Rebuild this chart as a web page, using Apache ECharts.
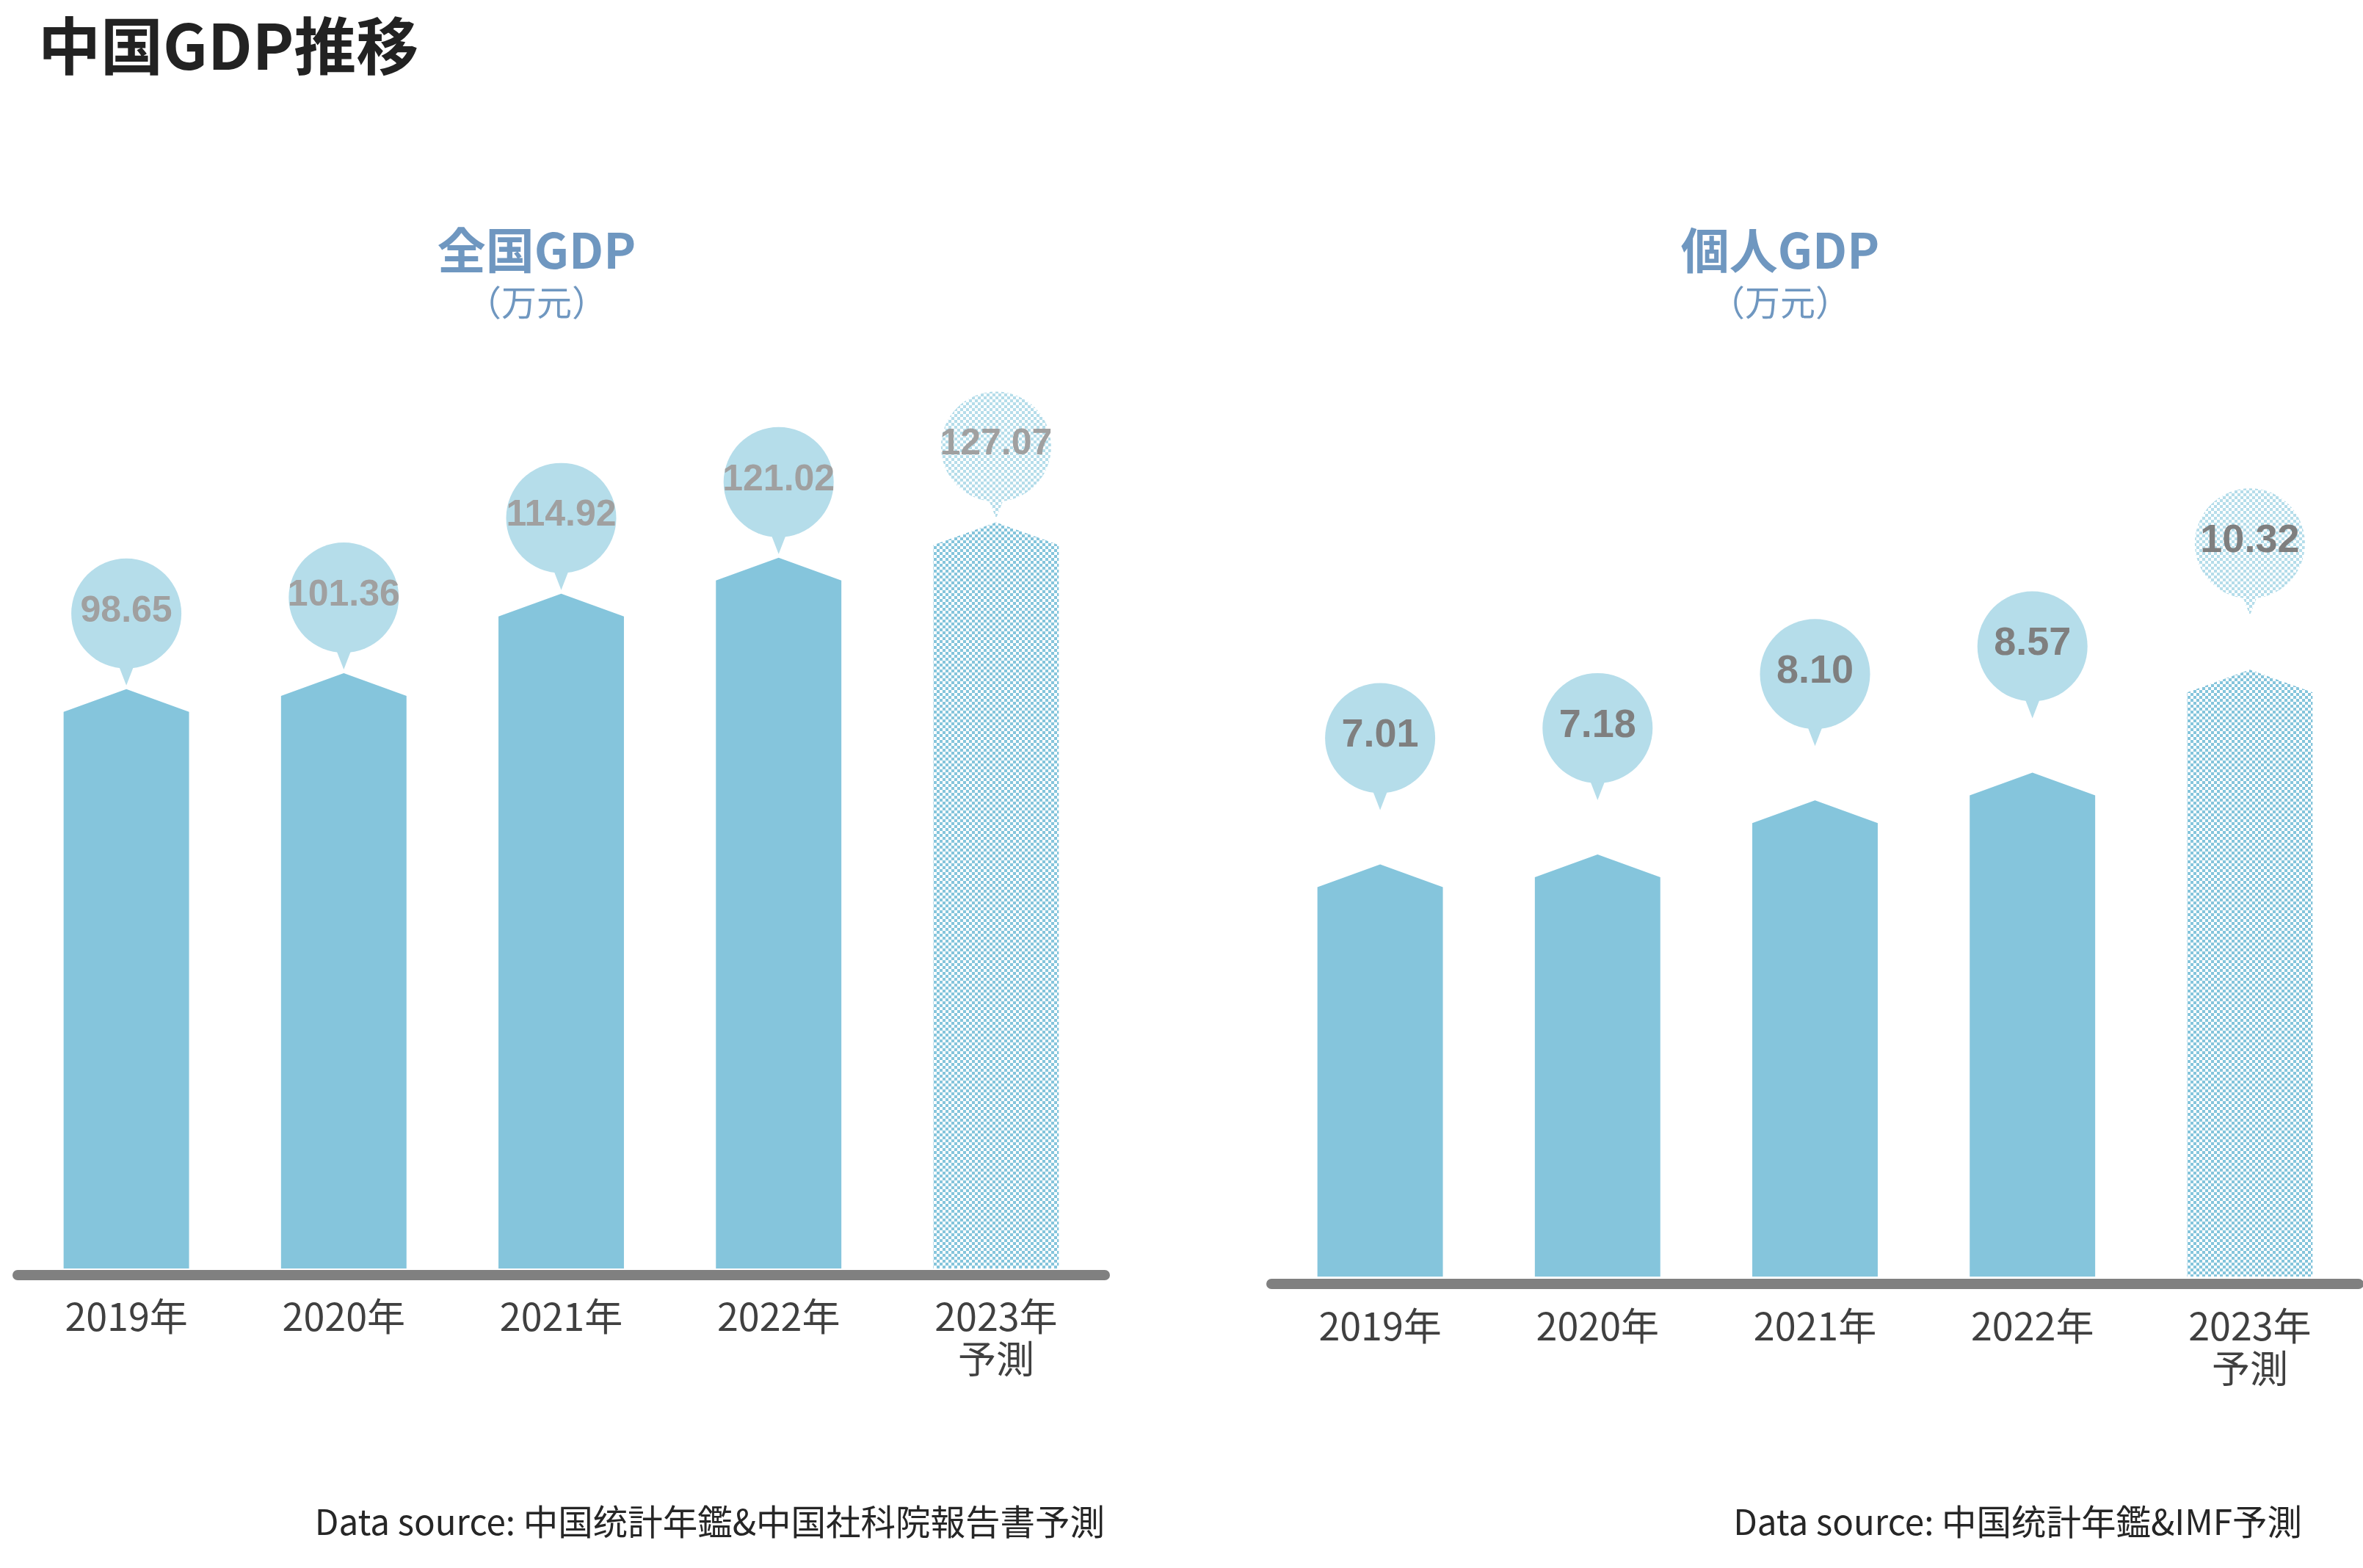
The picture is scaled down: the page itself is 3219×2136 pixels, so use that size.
<!DOCTYPE html>
<html>
<head>
<meta charset="utf-8">
<script src="https://cdn.jsdelivr.net/npm/echarts@6/dist/echarts.min.js"></script>
<style>
html,body{margin:0;padding:0;background:#fff;}
#chart{width:3219px;height:2136px;}
</style>
</head>
<body>
<div id="chart"></div>
<script>
// ---- data ----
const years = ['2019年', '2020年', '2021年', '2022年', '2023年\n予測'];
const nationalGDP = [98.65, 101.36, 114.92, 121.02, 127.07];
const perCapitaGDP = [7.01, 7.18, 8.10, 8.57, 10.32];
const forecastIndex = 4;
const mainTitle = '中国GDP推移';
const leftTitle = '全国GDP';
const rightTitle = '個人GDP';
const unitText = '（万元）';
const leftSource = 'Data source: 中国统計年鑑&中国社科院報告書予測';
const rightSource = 'Data source: 中国统計年鑑&IMF予測';

const CJK = '"Noto Sans CJK JP", "Noto Sans CJK SC", sans-serif';
const BAR = '#85C5DC';
const BUBBLE = '#B5DDEA';

function makePattern(color) {
  const c = document.createElement('canvas');
  c.width = 8; c.height = 8;
  const ctx = c.getContext('2d');
  ctx.fillStyle = color;
  ctx.fillRect(0, 0, 4, 4);
  ctx.fillRect(4, 4, 4, 4);
  return { image: c, repeat: 'repeat' };
}
const barPattern = makePattern(BAR);
const bubblePattern = makePattern(BUBBLE);

function makeRender(opt) {
  return function (params, api) {
    const idx = api.value(0);
    const v = api.value(1);
    const base = api.coord([idx, 0]);
    const top = api.coord([idx, v]);
    const band = api.size([1, 0])[0];
    const w = band * 0.577;
    const cx = base[0];
    const x0 = cx - w / 2, x1 = cx + w / 2;
    const yb = base[1] - opt.gap;
    const yp = top[1] - opt.gap;
    const ys = yp + 31;
    const forecast = idx === forecastIndex;
    const r = 75;
    const cy = yp - opt.bubbleOffset;
    const tip = cy + 98;
    return {
      type: 'group',
      children: [
        {
          type: 'polygon',
          shape: { points: [[x0, yb], [x0, ys], [cx, yp], [x1, ys], [x1, yb]] },
          style: { fill: forecast ? barPattern : BAR }
        },
        {
          type: 'polygon',
          shape: { points: [[cx - 12, cy + r - 8], [cx + 12, cy + r - 8], [cx, tip]] },
          style: { fill: forecast ? bubblePattern : BUBBLE }
        },
        {
          type: 'circle',
          shape: { cx: cx, cy: cy, r: r },
          style: { fill: forecast ? bubblePattern : BUBBLE }
        },
        {
          type: 'text',
          style: {
            text: v.toFixed(2),
            x: cx, y: cy - 3,
            align: 'center', verticalAlign: 'middle',
            textAlign: 'center', textVerticalAlign: 'middle',
            font: 'bold ' + opt.fontSize + 'px "Liberation Sans", Arial, sans-serif',
            fill: opt.labelColor
          }
        }
      ]
    };
  };
}

function xAxisFor(gi) {
  return {
    type: 'category', gridIndex: gi, data: years,
    axisLine: { show: true, lineStyle: { color: '#808080', width: 14 } },
    axisTick: { show: false },
    axisLabel: { color: '#404040', fontSize: 52, lineHeight: 58, margin: 28, fontFamily: CJK, interval: 0 },
    splitLine: { show: false }
  };
}
function yAxisFor(gi, max) {
  return { type: 'value', gridIndex: gi, min: 0, max: max, show: false, splitLine: { show: false } };
}

function txt(text, x, y, size, color, weight, align) {
  return {
    type: 'text', x: x, y: y,
    style: {
      text: text, align: align || 'center', verticalAlign: 'middle',
      font: (weight || 'normal') + ' ' + size + 'px ' + CJK, fill: color
    }
  };
}

const chart = echarts.init(document.getElementById('chart'));
chart.setOption({
  backgroundColor: '#ffffff',
  animation: false,
  grid: [
    { left: 24, top: 536.5, width: 1481, height: 1200, outerBoundsMode: 'none', containLabel: false },
    { left: 1732, top: 547.5, width: 1481, height: 1201.5, outerBoundsMode: 'none', containLabel: false }
  ],
  xAxis: [xAxisFor(0), xAxisFor(1)],
  yAxis: [yAxisFor(0, 150), yAxisFor(1, 15)],
  series: [
    {
      type: 'custom', xAxisIndex: 0, yAxisIndex: 0, clip: false,
      encode: { x: 0, y: 1 },
      data: nationalGDP.map((v, i) => [i, v]),
      renderItem: makeRender({ gap: 8.5, bubbleOffset: 103, fontSize: 50, labelColor: '#A0A0A0' })
    },
    {
      type: 'custom', xAxisIndex: 1, yAxisIndex: 1, clip: false,
      encode: { x: 0, y: 1 },
      data: perCapitaGDP.map((v, i) => [i, v]),
      renderItem: makeRender({ gap: 10, bubbleOffset: 172, fontSize: 54, labelColor: '#7F7F7F' })
    }
  ],
  graphic: [
    txt(mainTitle, 52, 63, 85, '#222222', 'bold', 'left'),
    txt(leftTitle, 731, 341, 66, '#6F97C0', 'bold'),
    txt(unitText, 731, 412, 48, '#6F97C0'),
    txt(rightTitle, 2425, 341, 66, '#6F97C0', 'bold'),
    txt(unitText, 2425, 412, 48, '#6F97C0'),
    txt(leftSource, 1505, 2073, 47.5, '#262626', 'normal', 'right'),
    txt(rightSource, 3136, 2073, 47.5, '#262626', 'normal', 'right')
  ]
});
</script>
</body>
</html>
